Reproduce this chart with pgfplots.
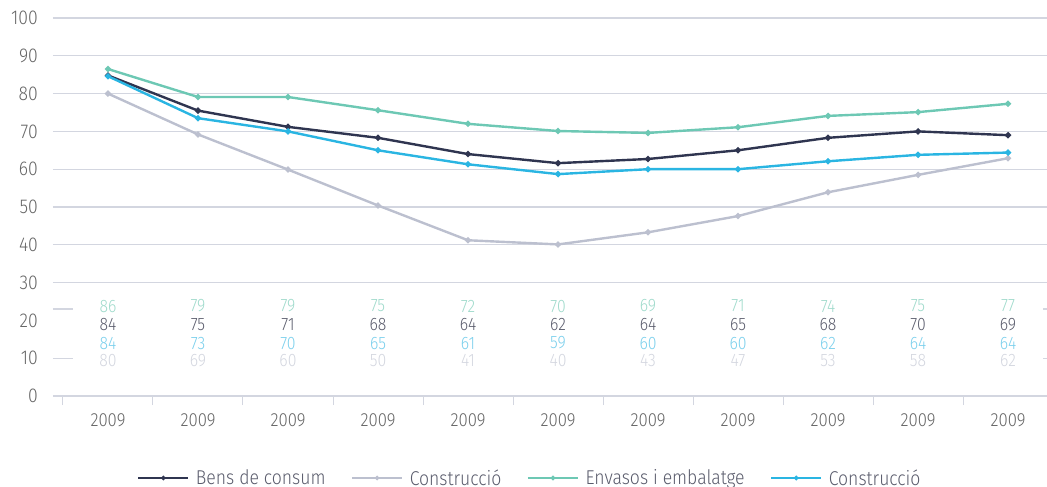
\documentclass[border=0pt]{standalone}
\usepackage{pgfplots}
\pgfplotsset{compat=1.18}
\usepackage{fontspec}
\setmainfont{Fira Sans Light}[FakeStretch=0.88]
\definecolor{cdark}{HTML}{2F3550}
\definecolor{cgray}{HTML}{BCC0CF}
\definecolor{cgreen}{HTML}{6DC8B4}
\definecolor{cblue}{HTML}{2AB5E2}
\definecolor{ldark}{HTML}{5A5C6C}
\definecolor{lgray}{HTML}{D3D6DF}
\definecolor{lgreen}{HTML}{9FDACB}
\definecolor{lblue}{HTML}{7ACFEC}
\definecolor{gridc}{HTML}{D3D6E0}
\definecolor{tickc}{HTML}{666666}
\begin{document}
\begin{tikzpicture}
\useasboundingbox (-53pt,-91pt) rectangle (994pt,396pt);
\begin{axis}[
  scale only axis, width=994pt, height=378pt,
  xmin=-0.611, xmax=10.433, ymin=0, ymax=100,
  axis x line*=bottom, axis y line*=left,
  y axis line style={draw=none},
  x axis line style={draw=gridc, line width=1.2pt},
  /pgf/number format/assume math mode=true,
  ytick={0,10,20},
  extra y ticks={30,40,50,60,70,80,90,100},
  extra y tick style={grid=major},
  major grid style={draw=gridc, line width=1.2pt},
  y tick style={draw=none},
  yticklabel style={anchor=east, inner sep=0pt, xshift=-15pt, font=\fontsize{20}{20}\selectfont, text=tickc},
  xtick={0,...,10},
  xticklabels={2009,2009,2009,2009,2009,2009,2009,2009,2009,2009,2009},
  major tick length=0pt,
  minor xtick={-0.5,0.5,1.5,2.5,3.5,4.5,5.5,6.5,7.5,8.5,9.5,10.5},
  minor tick length=9pt, tick align=outside,
  minor x tick style={draw=gridc, line width=1pt},
  major x tick style={draw=none},
  xticklabel style={anchor=center, yshift=-24pt, inner sep=0pt, font=\fontsize{19}{19}\selectfont, text=tickc},
  legend style={draw=none, at={(0.48,0)}, anchor=center, yshift=-82pt, font=\fontsize{20}{20}\selectfont, text=ldark,
     /tikz/every even column/.append style={column sep=24pt},
     /tikz/every odd column/.append style={column sep=5pt}},
  legend columns=4,
  legend image code/.code={\draw[mark repeat=2, mark phase=2, #1, line width=1.2pt] plot coordinates {(0pt,0pt) (25pt,0pt) (50pt,0pt)};},
  clip=false,
]
\draw[gridc, line width=1.2pt] (axis cs:-0.611,23) -- (axis cs:-0.389,23);
\draw[gridc, line width=1.2pt] (axis cs:-0.611,10) -- (axis cs:-0.389,10);
\draw[gridc, line width=1.2pt] (axis cs:10.39,23) -- (axis cs:10.433,23);
\draw[gridc, line width=1.2pt] (axis cs:10.39,10) -- (axis cs:10.433,10);

\addplot[cdark, line width=2.4pt, mark=*, mark size=1.7pt, mark options={solid, fill=cdark}] coordinates {
(0,84.8) (1,75.5) (2,71.2) (3,68.3) (4,64) (5,61.6) (6,62.7) (7,65) (8,68.3) (9,70) (10,69)};
\addlegendentry{Bens de consum}
\addplot[cgray, line width=2.4pt, mark=*, mark size=1.7pt, mark options={solid, fill=cgray}] coordinates {
(0,80) (1,69.2) (2,59.9) (3,50.4) (4,41.2) (5,40.1) (6,43.3) (7,47.6) (8,53.9) (9,58.5) (10,62.9)};
\addlegendentry{Construcció}
\addplot[cgreen, line width=2.4pt, mark=*, mark size=1.7pt, mark options={solid, fill=cgreen}] coordinates {
(0,86.5) (1,79.1) (2,79.1) (3,75.6) (4,72) (5,70.1) (6,69.6) (7,71.1) (8,74.1) (9,75.1) (10,77.3)};
\addlegendentry{Envasos i embalatge}
\addplot[cblue, line width=2.4pt, mark=*, mark size=1.7pt, mark options={solid, fill=cblue}] coordinates {
(0,84.6) (1,73.5) (2,70) (3,65) (4,61.3) (5,58.7) (6,60) (7,60) (8,62.1) (9,63.8) (10,64.4)};
\addlegendentry{Construcció}

\addplot[forget plot, draw=none, mark=none, nodes near coords, point meta=explicit symbolic,
  nodes near coords style={anchor=center, inner sep=0pt, font=\fontsize{18}{18}\selectfont, text=lgreen}]
  table[meta=l] {
x y l
0 23.8 86
1 23.8 79
2 23.8 79
3 23.8 75
4 23.8 72
5 23.8 70
6 23.8 69
7 23.8 71
8 23.8 74
9 23.8 75
10 23.8 77
};
\addplot[forget plot, draw=none, mark=none, nodes near coords, point meta=explicit symbolic,
  nodes near coords style={anchor=center, inner sep=0pt, font=\fontsize{18}{18}\selectfont, text=ldark}]
  table[meta=l] {
x y l
0 18.8 84
1 18.8 75
2 18.8 71
3 18.8 68
4 18.8 64
5 18.8 62
6 18.8 64
7 18.8 65
8 18.8 68
9 18.8 70
10 18.8 69
};
\addplot[forget plot, draw=none, mark=none, nodes near coords, point meta=explicit symbolic,
  nodes near coords style={anchor=center, inner sep=0pt, font=\fontsize{18}{18}\selectfont, text=lblue}]
  table[meta=l] {
x y l
0 14.0 84
1 14.0 73
2 14.0 70
3 14.0 65
4 14.0 61
5 14.0 59
6 14.0 60
7 14.0 60
8 14.0 62
9 14.0 64
10 14.0 64
};
\addplot[forget plot, draw=none, mark=none, nodes near coords, point meta=explicit symbolic,
  nodes near coords style={anchor=center, inner sep=0pt, font=\fontsize{18}{18}\selectfont, text=lgray}]
  table[meta=l] {
x y l
0 9.3 80
1 9.3 69
2 9.3 60
3 9.3 50
4 9.3 41
5 9.3 40
6 9.3 43
7 9.3 47
8 9.3 53
9 9.3 58
10 9.3 62
};
\end{axis}
\end{tikzpicture}
\end{document}
